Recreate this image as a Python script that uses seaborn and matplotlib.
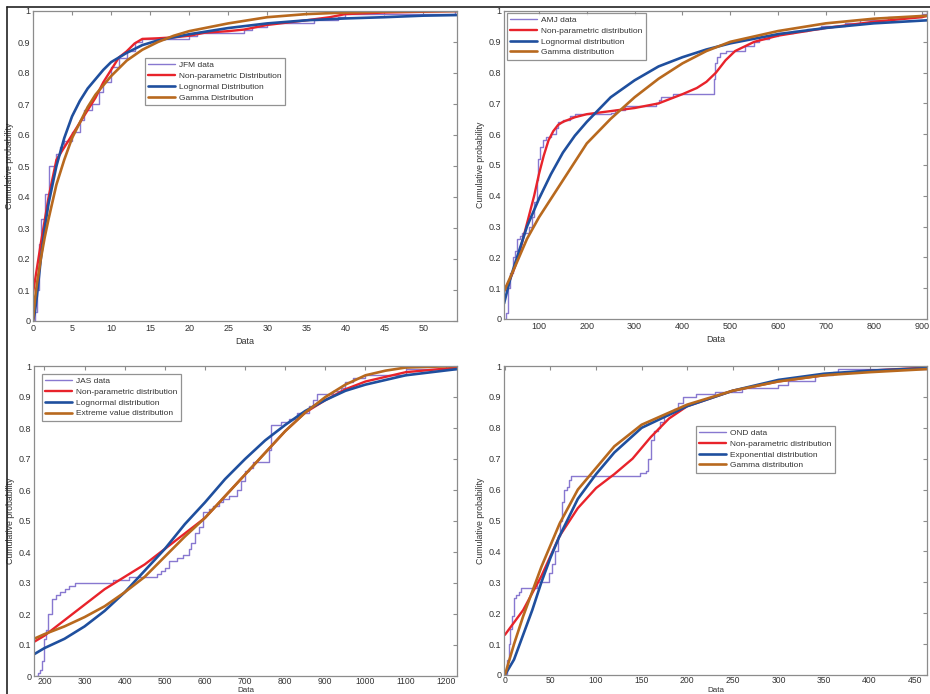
import matplotlib
matplotlib.use("Agg")
import matplotlib.pyplot as plt
from matplotlib.lines import Line2D
import seaborn as sns
import numpy as np

sns.set_style("white")
plt.rcParams['font.family'] = ['Liberation Sans', 'DejaVu Sans']

# ---------------- JFM ----------------
jfm_data_x = [0.0, 0.3, 0.5, 0.8, 1.0, 1.5, 2.0, 3.0, 3.5, 4.0, 5.0, 6.0, 6.5, 7.5, 8.5, 9.0, 10.0, 11.0, 12.0, 13.0, 14.0, 20.0, 21.0, 27.0, 28.0, 30.0, 36.0, 39.0, 40.0, 54.0, 54.5]
jfm_data_y = [0.0, 0.03, 0.1, 0.25, 0.33, 0.41, 0.5, 0.54, 0.56, 0.58, 0.61, 0.65, 0.68, 0.7, 0.74, 0.77, 0.82, 0.85, 0.87, 0.9, 0.91, 0.92, 0.93, 0.94, 0.95, 0.96, 0.97, 0.98, 0.99, 1.0, 1.0]
jfm_np_x = [0, 1, 2, 3, 4, 5, 6, 7, 8, 9, 10, 11, 12, 13, 14, 16, 18, 20, 22, 25, 27, 30, 35, 38, 40, 45, 54.5]
jfm_np_y = [0.09, 0.25, 0.4, 0.52, 0.56, 0.6, 0.64, 0.68, 0.72, 0.77, 0.81, 0.85, 0.87, 0.895, 0.91, 0.912, 0.915, 0.92, 0.93, 0.935, 0.94, 0.955, 0.97, 0.98, 0.99, 0.995, 1.0]
jfm_logn_x = [0, 0.25, 0.5, 0.75, 1, 1.5, 2, 2.5, 3, 4, 5, 6, 7, 8, 9, 10, 12, 14, 16, 18, 20, 25, 30, 35, 40, 45, 50, 54.5]
jfm_logn_y = [0.0, 0.03, 0.08, 0.14, 0.2, 0.3, 0.38, 0.44, 0.5, 0.59, 0.66, 0.71, 0.75, 0.78, 0.81, 0.835, 0.865, 0.89, 0.905, 0.915, 0.925, 0.945, 0.96, 0.97, 0.976, 0.98, 0.985, 0.987]
jfm_gam_x = [0, 0.25, 0.5, 1, 1.5, 2, 3, 4, 5, 6, 7, 8, 10, 12, 14, 16, 18, 20, 25, 30, 35, 40, 45, 54.5]
jfm_gam_y = [0.0, 0.07, 0.12, 0.2, 0.27, 0.33, 0.44, 0.52, 0.59, 0.64, 0.69, 0.73, 0.79, 0.84, 0.875, 0.9, 0.92, 0.935, 0.96, 0.98, 0.99, 0.995, 0.998, 1.0]

# ---------------- AMJ ----------------
amj_data_x = [30, 32, 35, 40, 45, 50, 55, 60, 65, 80, 85, 90, 95, 98, 102, 108, 115, 125, 135, 140, 150, 165, 175, 250, 260, 280, 345, 350, 355, 380, 465, 468, 472, 478, 490, 530, 550, 560, 580, 600, 630, 660, 690, 740, 770, 830, 900, 910, 914]
amj_data_y = [0.0, 0.02, 0.1, 0.15, 0.2, 0.22, 0.26, 0.27, 0.28, 0.3, 0.33, 0.38, 0.45, 0.52, 0.56, 0.58, 0.59, 0.6, 0.62, 0.64, 0.645, 0.66, 0.665, 0.67, 0.68, 0.69, 0.7, 0.71, 0.72, 0.73, 0.78, 0.83, 0.85, 0.865, 0.87, 0.885, 0.9, 0.91, 0.92, 0.93, 0.935, 0.94, 0.95, 0.96, 0.97, 0.98, 0.99, 1.0, 1.0]
amj_np_x = [27, 40, 50, 60, 70, 80, 90, 100, 110, 120, 130, 140, 150, 175, 200, 250, 300, 350, 400, 430, 450, 470, 490, 510, 530, 550, 600, 700, 800, 900, 914]
amj_np_y = [0.09, 0.13, 0.17, 0.22, 0.28, 0.34, 0.4, 0.47, 0.53, 0.58, 0.61, 0.63, 0.64, 0.655, 0.665, 0.675, 0.685, 0.7, 0.73, 0.75, 0.77, 0.8, 0.84, 0.87, 0.885, 0.9, 0.92, 0.945, 0.965, 0.98, 0.985]
amj_logn_x = [27, 40, 50, 75, 100, 125, 150, 175, 200, 250, 300, 350, 400, 450, 500, 600, 700, 800, 914]
amj_logn_y = [0.05, 0.13, 0.18, 0.3, 0.39, 0.47, 0.54, 0.595, 0.64, 0.72, 0.775, 0.82, 0.85, 0.875, 0.895, 0.925, 0.945, 0.96, 0.97]
amj_gam_x = [27, 50, 75, 100, 150, 200, 250, 300, 350, 400, 450, 500, 600, 700, 800, 914]
amj_gam_y = [0.09, 0.17, 0.26, 0.33, 0.45, 0.57, 0.65, 0.72, 0.78, 0.83, 0.87, 0.9, 0.935, 0.96, 0.975, 0.985]

# ---------------- JAS ----------------
jas_data_x = [180, 185, 190, 195, 200, 205, 210, 220, 230, 240, 250, 260, 275, 370, 410, 480, 490, 500, 510, 530, 545, 560, 565, 575, 585, 595, 610, 620, 635, 645, 660, 680, 690, 700, 710, 720, 760, 765, 790, 810, 830, 860, 870, 880, 920, 940, 950, 970, 1000, 1100, 1228]
jas_data_y = [0.0, 0.01, 0.02, 0.05, 0.12, 0.15, 0.2, 0.25, 0.26, 0.27, 0.28, 0.29, 0.3, 0.31, 0.32, 0.33, 0.34, 0.35, 0.37, 0.38, 0.39, 0.41, 0.43, 0.46, 0.48, 0.53, 0.54, 0.55, 0.56, 0.57, 0.58, 0.6, 0.63, 0.66, 0.67, 0.69, 0.73, 0.81, 0.82, 0.83, 0.85, 0.87, 0.89, 0.91, 0.92, 0.93, 0.95, 0.96, 0.97, 0.99, 1.0]
jas_np_x = [174, 200, 250, 300, 350, 400, 450, 500, 550, 600, 650, 700, 750, 800, 850, 900, 950, 1000, 1100, 1228]
jas_np_y = [0.11, 0.13, 0.18, 0.23, 0.28, 0.32, 0.36, 0.41, 0.46, 0.51, 0.58, 0.65, 0.72, 0.79, 0.85, 0.89, 0.925, 0.95, 0.98, 0.995]
jas_logn_x = [174, 200, 250, 300, 350, 400, 450, 500, 550, 600, 650, 700, 750, 800, 850, 900, 950, 1000, 1100, 1228]
jas_logn_y = [0.07, 0.09, 0.12, 0.16, 0.21, 0.27, 0.34, 0.41, 0.49, 0.56, 0.635, 0.7, 0.76, 0.81, 0.855, 0.89, 0.92, 0.94, 0.97, 0.99]
jas_ev_x = [174, 200, 250, 300, 350, 400, 450, 500, 550, 600, 650, 700, 750, 800, 850, 900, 950, 1000, 1050, 1100, 1228]
jas_ev_y = [0.12, 0.135, 0.16, 0.19, 0.225, 0.27, 0.32, 0.385, 0.45, 0.51, 0.58, 0.65, 0.72, 0.79, 0.85, 0.9, 0.94, 0.97, 0.985, 0.995, 1.0]

# ---------------- OND ----------------
ond_data_x = [-1, 2, 4, 6, 8, 10, 12, 15, 18, 35, 48, 52, 55, 58, 60, 63, 65, 68, 70, 73, 148, 155, 157, 160, 163, 168, 170, 175, 180, 185, 190, 195, 210, 230, 260, 300, 310, 340, 360, 365, 463]
ond_data_y = [0.0, 0.05, 0.1, 0.15, 0.19, 0.25, 0.26, 0.27, 0.28, 0.3, 0.33, 0.36, 0.4, 0.45, 0.5, 0.56, 0.6, 0.61, 0.63, 0.645, 0.655, 0.66, 0.7, 0.76, 0.79, 0.8, 0.82, 0.84, 0.85, 0.86, 0.88, 0.9, 0.91, 0.915, 0.93, 0.94, 0.95, 0.97, 0.98, 0.99, 1.0]
ond_np_x = [0, 20, 40, 60, 80, 100, 120, 140, 160, 180, 200, 250, 300, 350, 400, 463]
ond_np_y = [0.13, 0.21, 0.32, 0.45, 0.54, 0.605, 0.65, 0.7, 0.77, 0.83, 0.87, 0.92, 0.95, 0.97, 0.985, 0.995]
ond_exp_x = [0, 10, 20, 30, 40, 50, 60, 80, 100, 120, 150, 200, 250, 300, 350, 400, 463]
ond_exp_y = [0.0, 0.05, 0.13, 0.21, 0.3, 0.38, 0.45, 0.57, 0.65, 0.72, 0.8, 0.87, 0.92, 0.955, 0.975, 0.985, 0.993]
ond_gam_x = [0, 10, 20, 30, 40, 50, 60, 80, 100, 120, 150, 200, 250, 300, 350, 400, 463]
ond_gam_y = [0.0, 0.1, 0.19, 0.27, 0.35, 0.42, 0.49, 0.6, 0.67, 0.74, 0.81, 0.875, 0.92, 0.95, 0.97, 0.98, 0.99]

C_DATA = '#8878d0'
C_NP = '#e8232b'
C_BLUE = '#1f4f9e'
C_GAM = '#b8691e'
SPINE = '#8c8c8c'
TXT = '#333333'

W, H = 930, 694
fig = plt.figure(figsize=(W / 100, H / 100), dpi=100)
fig.patch.set_facecolor('white')


def make_ax(l, t, r, b):
    return fig.add_axes([l / W, 1 - b / H, (r - l) / W, (b - t) / H])


panels = [
    dict(rect=(33, 11, 457, 321), xlim=(0, 54.3), xticks=np.arange(0, 51, 5), bottom=False,
         series=[(jfm_data_x, jfm_data_y, 'JFM data', C_DATA, 1.0, True),
                 (jfm_np_x, jfm_np_y, 'Non-parametric Distribution', C_NP, 1.7, False),
                 (jfm_logn_x, jfm_logn_y, 'Lognormal Distribution', C_BLUE, 1.9, False),
                 (jfm_gam_x, jfm_gam_y, 'Gamma Distribution', C_GAM, 1.9, False)],
         leg=dict(loc='upper left', bbox_to_anchor=(0.264, 0.848))),
    dict(rect=(504, 11, 927, 319), xlim=(27, 911), xticks=np.arange(100, 901, 100), bottom=False,
         series=[(amj_data_x, amj_data_y, 'AMJ data', C_DATA, 1.0, True),
                 (amj_np_x, amj_np_y, 'Non-parametric distribution', C_NP, 1.7, False),
                 (amj_logn_x, amj_logn_y, 'Lognormal distribution', C_BLUE, 1.9, False),
                 (amj_gam_x, amj_gam_y, 'Gamma distribution', C_GAM, 1.9, False)],
         leg=dict(loc='upper left', bbox_to_anchor=(0.007, 0.994))),
    dict(rect=(34, 366, 457, 676), xlim=(174, 1228), xticks=np.arange(200, 1201, 100), bottom=True,
         series=[(jas_data_x, jas_data_y, 'JAS data', C_DATA, 1.0, True),
                 (jas_np_x, jas_np_y, 'Non-parametric distribution', C_NP, 1.7, False),
                 (jas_logn_x, jas_logn_y, 'Lognormal distribution', C_BLUE, 1.9, False),
                 (jas_ev_x, jas_ev_y, 'Extreme value distribution', C_GAM, 1.9, False)],
         leg=dict(loc='upper left', bbox_to_anchor=(0.019, 0.974))),
    dict(rect=(504, 366, 927, 675), xlim=(-1, 463), xticks=np.arange(0, 451, 50), bottom=True,
         series=[(ond_data_x, ond_data_y, 'OND data', C_DATA, 1.0, True),
                 (ond_np_x, ond_np_y, 'Non-parametric distribution', C_NP, 1.7, False),
                 (ond_exp_x, ond_exp_y, 'Exponential distribution', C_BLUE, 1.9, False),
                 (ond_gam_x, ond_gam_y, 'Gamma distribution', C_GAM, 1.9, False)],
         leg=dict(loc='upper left', bbox_to_anchor=(0.454, 0.806))),
]

for p in panels:
    ax = make_ax(*p['rect'])
    for xs, ys, lab, col, lw, step in p['series']:
        kw = dict(drawstyle='steps-post') if step else {}
        sns.lineplot(x=xs, y=ys, ax=ax, color=col, linewidth=lw, label=lab,
                     estimator=None, sort=False, **kw)
    ax.set_xlim(*p['xlim'])
    ax.set_ylim(0, 1)
    ax.set_xticks(p['xticks'])
    ax.set_xticklabels([str(int(v)) for v in p['xticks']])
    yt = np.round(np.arange(0, 1.01, 0.1), 1)
    ax.set_yticks(yt)
    ax.set_yticklabels(['0' if v == 0 else ('1' if v == 1 else f'{v:.1f}') for v in yt])
    ax.tick_params(direction='in', length=3, width=0.8, colors=SPINE, labelcolor=TXT,
                   labelsize=6.5, top=True, right=True, pad=2)
    for s in ax.spines.values():
        s.set_color(SPINE)
        s.set_linewidth(0.9)
    ax.set_ylabel('Cumulative probability', fontsize=6.3, color=TXT)
    h_px = p['rect'][3] - p['rect'][1]
    w_px = p['rect'][2] - p['rect'][0]
    if p['bottom']:
        # reference shows the label right at the picture's bottom edge; keep it inside
        ax.tick_params(axis='x', pad=1, labelsize=6.2)
        ax.set_xlabel('Data', fontsize=5.8, color=TXT)
        ax.xaxis.set_label_coords(0.5, -(H - 0.3 - p['rect'][3]) / h_px)
        ax.xaxis.label.set_va('bottom')
    else:
        ax.set_xlabel('Data', fontsize=6.5, color=TXT)
        ax.xaxis.set_label_coords(0.5, -0.052)
    ax.yaxis.set_label_coords(-19.0 / w_px, 0.5)
    leg = ax.legend(fontsize=6.0, frameon=True, fancybox=False, edgecolor='#777777',
                    handlelength=3.2, handletextpad=0.5, borderpad=0.4,
                    labelspacing=0.35, borderaxespad=0.0, **p['leg'])
    leg.get_frame().set_linewidth(0.9)
    for t in leg.get_texts():
        t.set_color(TXT)

# outer border lines of the image (left and top)
fig.add_artist(Line2D([7 / W, 7 / W], [0, 1 - 7 / H], transform=fig.transFigure,
                      color='#222222', linewidth=1.2))
fig.add_artist(Line2D([7 / W, 1], [1 - 7 / H, 1 - 7 / H], transform=fig.transFigure,
                      color='#222222', linewidth=1.2))

fig.savefig('out.png', dpi=100, facecolor='white')
